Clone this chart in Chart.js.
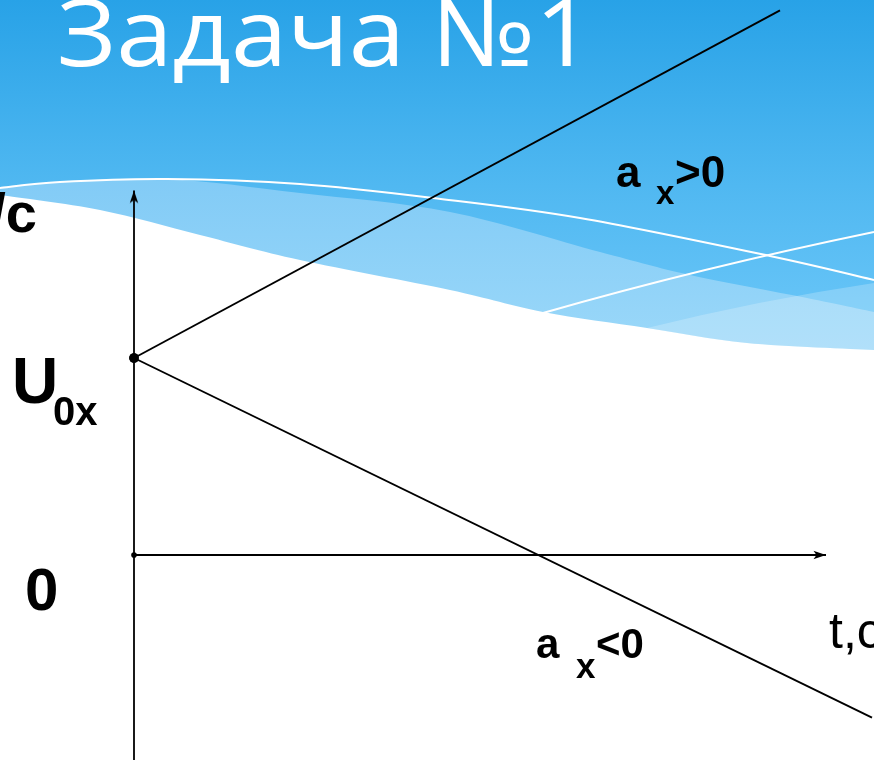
<!DOCTYPE html>
<html>
<head>
<meta charset="utf-8">
<script src="https://cdn.jsdelivr.net/npm/chart.js@4.4.1/dist/chart.umd.min.js"></script>
<style>
  html, body { margin: 0; padding: 0; background: #ffffff; overflow: hidden; }
  #c { display: block; }
</style>
</head>
<body>
<canvas id="c" width="874" height="760"></canvas>
<script>
// ---- data (schematic v(t) graph, in chart units) ----
const titleText = "Задача №1";
const u0 = 2;                         // initial velocity U0x
const tPositive = [0, 6.46];          // a_x > 0 line, time values
const vPositive = [2, 5.53];          // a_x > 0 line, velocity values
const tNegative = [0, 7.38];          // a_x < 0 line, time values
const vNegative = [2, -1.65];         // a_x < 0 line, velocity values
const tAxisEnd = 6.92;                // end of time axis (arrow)
const vAxisRange = [-2.08, 3.70];     // extent of velocity axis (arrow at top)
const labelsText = { vUnit: "/c", u: "U", uSub: "0x", zero: "0", a: "a", aSub: "x", pos: ">0", neg: "<0", tUnit: "t,c" };

// ---- arrowhead image used as point style ----
function makeArrow() {
  const c = document.createElement('canvas');
  c.width = 10; c.height = 26;
  const g = c.getContext('2d');
  g.fillStyle = '#000';
  g.beginPath();
  g.moveTo(5, 13);
  g.lineTo(0.8, 25.5);
  g.lineTo(5, 22.5);
  g.lineTo(9.2, 25.5);
  g.closePath();
  g.fill();
  return c;
}
const arrow = makeArrow();

// ---- smooth curve helper (Catmull-Rom) ----
function curve(ctx, pts, move) {
  if (move) ctx.moveTo(pts[0][0], pts[0][1]); else ctx.lineTo(pts[0][0], pts[0][1]);
  for (let i = 0; i < pts.length - 1; i++) {
    const p0 = pts[i - 1] || pts[i], p1 = pts[i], p2 = pts[i + 1], p3 = pts[i + 2] || p2;
    ctx.bezierCurveTo(p1[0] + (p2[0] - p0[0]) / 6, p1[1] + (p2[1] - p0[1]) / 6,
                      p2[0] - (p3[0] - p1[0]) / 6, p2[1] - (p3[1] - p1[1]) / 6, p2[0], p2[1]);
  }
}

const slideBackground = {
  id: 'slideBackground',
  beforeDraw(chart) {
    const ctx = chart.ctx, W = chart.width, H = chart.height;
    ctx.save();
    ctx.fillStyle = '#ffffff';
    ctx.fillRect(0, 0, W, H);
    const bottomEdge = [[0,195],[100,210],[200,235],[300,260],[450,290],[543,312],[647,328],[747,343],[874,350]];
    const blueEdge = [[0,187],[60,182],[167,179],[300,193],[450,212],[600,252],[690,275],[807,298],[874,312]];
    // light band
    ctx.beginPath();
    ctx.moveTo(0, 160); ctx.lineTo(W, 160);
    curve(ctx, bottomEdge.slice().reverse(), false);
    ctx.closePath();
    const gA = ctx.createLinearGradient(0, 180, 0, 350);
    gA.addColorStop(0, '#82cbf6'); gA.addColorStop(1, '#9bd8f9');
    ctx.fillStyle = gA; ctx.fill();
    // header blue
    ctx.beginPath();
    ctx.moveTo(0, 0); ctx.lineTo(W, 0);
    curve(ctx, blueEdge.slice().reverse(), false);
    ctx.closePath();
    const gB = ctx.createLinearGradient(0, 0, 0, 310);
    gB.addColorStop(0, '#28a2e7'); gB.addColorStop(0.6, '#50b8f1'); gB.addColorStop(1, '#66c4f7');
    ctx.fillStyle = gB; ctx.fill();
    // lighter wedge on the right
    ctx.beginPath();
    ctx.moveTo(647, 328);
    ctx.quadraticCurveTo(760, 300, 874, 283);
    ctx.lineTo(874, 350);
    curve(ctx, [[874,350],[747,343],[647,328]], false);
    ctx.closePath();
    ctx.fillStyle = 'rgba(255,255,255,0.22)'; ctx.fill();
    // white wisps
    ctx.strokeStyle = '#ffffff'; ctx.lineWidth = 2;
    ctx.beginPath();
    curve(ctx, [[0,188],[60,182],[167,179],[300,184],[433,198],[580,218],[770,256],[874,280]], true);
    ctx.stroke();
    ctx.beginPath();
    ctx.moveTo(543, 313); ctx.quadraticCurveTo(700, 268, 874, 232);
    ctx.stroke();
    // title
    ctx.fillStyle = '#ffffff';
    ctx.font = "400 93px 'Open Sans'";
    ctx.textBaseline = 'alphabetic';
    const w = ctx.measureText(titleText).width;
    ctx.translate(57, 66);
    ctx.scale(536 / w, 1);
    ctx.fillText(titleText, 0, 0);
    ctx.restore();
  }
};

const slideLabels = {
  id: 'slideLabels',
  afterDatasetsDraw(chart) {
    const ctx = chart.ctx;
    const xs = chart.scales.x, ys = chart.scales.y;
    const x0 = xs.getPixelForValue(0), yU = ys.getPixelForValue(u0), y0 = ys.getPixelForValue(0);
    ctx.save();
    ctx.fillStyle = '#000';
    ctx.textBaseline = 'alphabetic';
    const B = (s) => "bold " + s + "px 'Liberation Sans', Arial, sans-serif";
    ctx.font = B(56); ctx.textAlign = 'right';
    ctx.fillText(labelsText.vUnit, 37, 232);
    ctx.textAlign = 'left';
    // U0x
    ctx.font = B(64); ctx.fillText(labelsText.u, x0 - 122, yU + 45);
    ctx.font = B(40); ctx.fillText(labelsText.uSub, x0 - 81, yU + 67);
    // 0
    ctx.font = B(60); ctx.fillText(labelsText.zero, x0 - 109, y0 + 55);
    // a_x > 0
    ctx.font = B(44); ctx.fillText(labelsText.a, 616, 187);
    ctx.font = B(33); ctx.fillText(labelsText.aSub, 656, 204);
    ctx.font = B(44); ctx.fillText(labelsText.pos, 675, 187);
    // a_x < 0
    ctx.font = B(42); ctx.fillText(labelsText.a, 536, 658);
    ctx.font = B(35); ctx.fillText(labelsText.aSub, 576, 678);
    ctx.font = B(42); ctx.fillText(labelsText.neg, 596, 658);
    // t,c
    ctx.font = "50px 'Liberation Sans', Arial, sans-serif";
    ctx.fillText(labelsText.tUnit, 829, 648);
    ctx.restore();
  }
};

const toPts = (ts, vs) => ts.map((t, i) => ({ x: t, y: vs[i] }));

new Chart(document.getElementById('c'), {
  type: 'scatter',
  data: {
    datasets: [
      { // velocity axis
        data: [{ x: 0, y: vAxisRange[0] }, { x: 0, y: vAxisRange[1] }],
        showLine: true, borderColor: '#000', borderWidth: 1.8,
        pointStyle: ['circle', arrow], pointRadius: [0, 6], pointRotation: [0, 0],
        pointBackgroundColor: '#000', pointBorderWidth: 0
      },
      { // time axis
        data: [{ x: 0, y: 0 }, { x: tAxisEnd, y: 0 }],
        showLine: true, borderColor: '#000', borderWidth: 1.8,
        pointStyle: ['circle', arrow], pointRadius: [2.8, 6], pointRotation: [0, 90],
        pointBackgroundColor: '#000', pointBorderWidth: 0
      },
      { // a_x > 0
        data: toPts(tPositive, vPositive),
        showLine: true, borderColor: '#000', borderWidth: 1.9,
        pointRadius: [4.8, 0], pointBackgroundColor: '#000', pointBorderWidth: 0
      },
      { // a_x < 0
        data: toPts(tNegative, vNegative),
        showLine: true, borderColor: '#000', borderWidth: 1.9,
        pointRadius: [4.8, 0], pointBackgroundColor: '#000', pointBorderWidth: 0
      }
    ]
  },
  options: {
    responsive: false,
    animation: false,
    events: [],
    layout: { padding: 0, autoPadding: false },
    clip: false,
    scales: {
      x: { type: 'linear', display: false, min: -1.34, max: 7.40 },
      y: { type: 'linear', display: false, min: -2.0812, max: 5.6345 }
    },
    plugins: { legend: { display: false }, tooltip: { enabled: false }, title: { display: false } }
  },
  plugins: [slideBackground, slideLabels]
});
</script>
</body>
</html>
